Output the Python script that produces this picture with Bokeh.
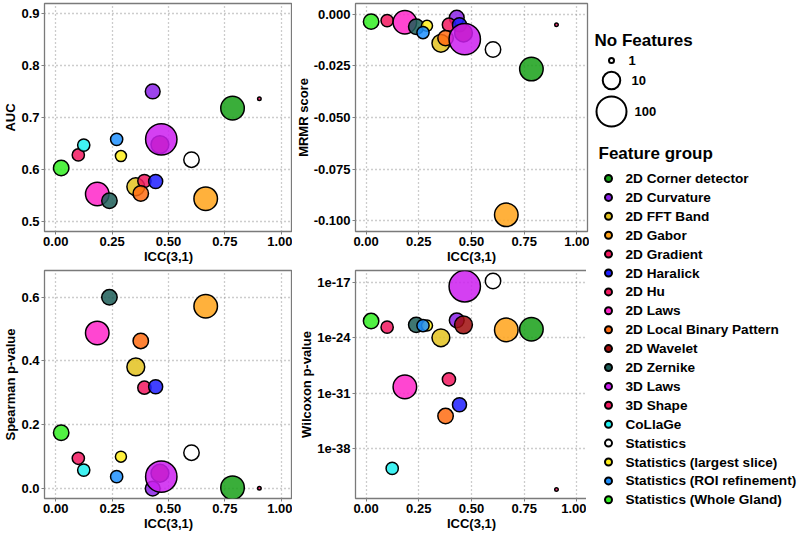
import math
from bokeh.plotting import figure
from bokeh.layouts import row, column
from bokeh.models import (ColumnDataSource, Range1d, FixedTicker,
                          NumeralTickFormatter, CustomJSTickFormatter)
from bokeh.core.properties import value
from bokeh.embed import file_html
from bokeh.resources import INLINE

# ---------------- data ----------------
groups = ["2D Corner detector", "2D Curvature", "2D FFT Band", "2D Gabor",
          "2D Gradient", "2D Haralick", "2D Hu", "2D Laws",
          "2D Local Binary Pattern", "2D Wavelet", "2D Zernike", "3D Laws",
          "3D Shape", "CoLlaGe", "Statistics", "Statistics (largest slice)",
          "Statistics (ROI refinement)", "Statistics (Whole Gland)"]
colors = ["#17a017", "#8b22e8", "#e3c21f", "#ffa31a",
          "#f2185f", "#1f1fff", "#f2185f", "#ff26c9",
          "#ff6c12", "#a00d0d", "#1d5e58", "#cc1ff0",
          "#f2185f", "#1ff0f0", "#ffffff", "#ffee1a",
          "#1e90ff", "#33ee22"]
n_features = [40, 8, 14, 40, 6, 7, 5, 40, 9, 14, 9, 170, 1, 5, 9, 4, 5, 9]
icc = [0.784, 0.430, 0.355, 0.665, 0.393, 0.443, 0.100, 0.184,
       0.377, 0.462, 0.238, 0.468, 0.903, 0.124, 0.602, 0.289, 0.270, 0.024]
auc = [0.718, 0.750, 0.567, 0.544, 0.578, 0.577, 0.628, 0.553,
       0.554, 0.648, 0.540, 0.658, 0.736, 0.647, 0.619, 0.626, 0.658, 0.603]
mrmr = [-0.0265, -0.0016, -0.0140, -0.0972, -0.0050, -0.0050, -0.0030, -0.0038,
        -0.0115, -0.0090, -0.0060, -0.0120, -0.0050, float("nan"), -0.0170,
        -0.0055, -0.0088, -0.0035]
spearman = [0.003, 0.000, 0.381, 0.571, 0.316, 0.319, 0.095, 0.4875,
            0.4625, 0.048, 0.599, 0.0375, 0.001, 0.058, 0.1125, 0.100, 0.0375, 0.175]
wilcoxon = [1.2e-23, 1.6e-22, 1.0e-24, 1.0e-23, 5.6e-30, 3.5e-33, 2.2e-23, 6.3e-31,
            1.3e-34, 4.3e-23, 4.3e-23, 3.2e-18, 7.0e-44, 3.2e-41, 1.5e-17,
            3.5e-23, 3.5e-23, 1.3e-22]

icc_ticks = [0.0, 0.25, 0.5, 0.75, 1.0]
auc_ticks = [0.5, 0.6, 0.7, 0.8, 0.9]
mrmr_ticks = [-0.1, -0.075, -0.05, -0.025, 0.0]
spearman_ticks = [0.0, 0.2, 0.4, 0.6]
wilcoxon_ticks = [1e-38, 1e-31, 1e-24, 1e-17]
size_breaks = [1, 10, 100]

FONT = "Liberation Sans"
FRAME_H = 228
TOTAL_H = 532
LEG_W = 210


def marker_size(n):
    return 5 + 12.5 * math.log10(n) - 1.5


src = ColumnDataSource(dict(group=groups, color=colors,
                            size=[marker_size(n) for n in n_features],
                            icc=icc, auc=auc, mrmr=mrmr,
                            spearman=spearman, wilcoxon=wilcoxon))


def panel(ycol, ylabel, yr, yticks, fmt, left, frame_w, right, bottom, log=False):
    p = figure(frame_width=frame_w, frame_height=FRAME_H,
               x_range=Range1d(-0.05, 1.05), y_range=Range1d(*yr),
               y_axis_type="log" if log else "linear",
               output_backend="svg", toolbar_location=None,
               min_border_left=left, min_border_right=right,
               min_border_top=3, min_border_bottom=bottom)
    xt = FixedTicker(ticks=icc_ticks)
    yt = FixedTicker(ticks=yticks)
    p.xaxis.ticker = xt
    p.xgrid.ticker = xt
    p.yaxis.ticker = yt
    p.ygrid.ticker = yt
    p.xaxis.formatter = NumeralTickFormatter(format="0.00")
    p.yaxis.formatter = fmt
    p.xaxis.axis_label = "ICC(3,1)"
    p.yaxis.axis_label = ylabel
    for ax in p.axis:
        ax.axis_label_text_font = FONT
        ax.axis_label_text_font_style = "bold"
        ax.axis_label_text_font_size = "13px"
        ax.axis_label_text_color = "black"
        ax.major_label_text_font = FONT
        ax.major_label_text_font_style = "bold"
        ax.major_label_text_font_size = "13px"
        ax.major_label_text_color = "black"
        ax.axis_line_color = None
        ax.major_tick_line_color = "#808080"
        ax.major_tick_out = 3
        ax.major_tick_in = 0
        ax.minor_tick_line_color = None
        ax.major_label_standoff = 2
        ax.axis_label_standoff = 0
    p.grid.grid_line_color = "#9a9a9a"
    p.grid.grid_line_dash = "1 3"
    p.grid.grid_line_width = 1.3
    p.grid.minor_grid_line_color = None
    p.outline_line_color = "#7a7a7a"
    p.outline_line_width = 1.3
    p.scatter("icc", ycol, source=src, size="size", fill_color="color",
              fill_alpha=0.85, line_color="black", line_width=1.5)
    return p


log_fmt = CustomJSTickFormatter(code="return '1e' + Math.round(Math.log10(tick));")

p1 = panel("auc", "AUC", (0.481, 0.919), auc_ticks,
           NumeralTickFormatter(format="0.0"), 42, 248, 0, 36)
p2 = panel("mrmr", "MRMR score", (-0.1053, 0.0053), mrmr_ticks,
           NumeralTickFormatter(format="0.000"), 60, 232, 2, 36)
p3 = panel("spearman", "Spearman p-value", (-0.031, 0.683), spearman_ticks,
           NumeralTickFormatter(format="0.0"), 42, 248, 0, 34)
p4 = panel("wilcoxon", "Wilcoxon p-value", (10 ** -44.3, 10 ** -15.5),
           wilcoxon_ticks, log_fmt, 60, 232, 2, 34, log=True)

# ---------------- legend ----------------
leg = figure(width=LEG_W, height=TOTAL_H, x_range=Range1d(0, LEG_W),
             y_range=Range1d(TOTAL_H, 0), output_backend="svg",
             toolbar_location=None, min_border=0,
             x_axis_location=None, y_axis_location=None)
leg.grid.visible = False
leg.outline_line_color = None

leg.text(x=[5], y=[40], text=["No Features"], text_font=value(FONT),
         text_font_style="bold", text_font_size="17px",
         text_baseline="middle", text_color="black")
size_src = ColumnDataSource(dict(
    x=[22] * len(size_breaks),
    y=[60, 80, 111],
    tx=[39 + 3 * i for i in range(len(size_breaks))],
    size=[marker_size(n) + 1.5 for n in size_breaks],
    label=[str(n) for n in size_breaks]))
leg.scatter("x", "y", size="size", source=size_src, fill_color="white",
            line_color="black", line_width=2)
leg.text("tx", "y", text="label", source=size_src, text_font=value(FONT),
         text_font_style="bold", text_font_size="13px",
         text_baseline="middle", text_color="black")

leg.text(x=[9], y=[153], text=["Feature group"], text_font=value(FONT),
         text_font_style="bold", text_font_size="17px",
         text_baseline="middle", text_color="black")
grp_src = ColumnDataSource(dict(
    x=[19] * len(groups),
    tx=[36] * len(groups),
    y=[178 + 18.9 * i for i in range(len(groups))],
    color=colors, label=groups))
leg.scatter("x", "y", size=7, source=grp_src, fill_color="color",
            line_color="black", line_width=2)
leg.text("tx", "y", text="label", source=grp_src, text_font=value(FONT),
         text_font_style="bold", text_font_size="13.6px",
         text_baseline="middle", text_color="black")

layout = row(column(p1, p3), column(p2, p4), leg)

with open("out.html", "w") as f:
    f.write(file_html(layout, INLINE))
